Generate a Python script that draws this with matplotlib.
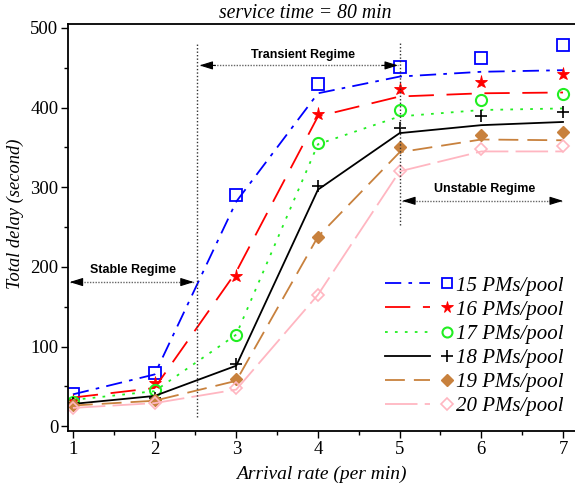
import matplotlib
matplotlib.use("Agg")
import matplotlib.pyplot as plt
from matplotlib.legend_handler import HandlerBase
from matplotlib.lines import Line2D

# ---- data ----
arrival = [1, 2, 3, 4, 5, 6, 7]
labels = ["15 PMs/pool", "16 PMs/pool", "17 PMs/pool", "18 PMs/pool", "19 PMs/pool", "20 PMs/pool"]
pts_15 = [41, 67, 290, 430, 451, 462, 479]
line_15 = [40, 65, 282, 418, 439, 445, 447]
pts_16 = [32, 54, 188, 392, 423, 432, 442]
line_16 = [36, 48, 194, 389, 414, 418, 419]
pts_17 = [31, 46, 115, 355, 397, 410, 417]
line_17 = [33, 44, 115, 354, 389, 397, 399]
pts_18 = [29, 36, 78, 302, 374, 389, 395]
line_18 = [28, 38, 76, 297, 368, 378, 382]
pts_19 = [27, 33, 59, 238, 350, 366, 369]
line_19 = [26, 32, 57, 238, 344, 360, 359]
pts_20 = [23, 29, 48, 165, 321, 348, 352]
line_20 = [23, 29, 46, 165, 320, 345, 345]

# regime annotations
stable_x = (0.96, 2.48); stable_y = 181
transient_x = (2.55, 4.98); transient_y = 453
unstable_x = (5.03, 7.0); unstable_y = 283
vline1_x = 2.52; vline1_y = (12, 482)
vline2_x = 5.0; vline2_y = (253, 481)

serif = "Liberation Serif"
sans = "Liberation Sans"

fig = plt.figure(figsize=(5.75, 4.88), dpi=100)
ax = fig.add_axes([68/575, 57/488, 1 - 68/575, (431-24)/488])

styles = [
    dict(color="#0000ff", dashes=(9, 4, 2, 4), marker="s", mfc="none", ms=8, mew=1.3),
    dict(color="#ff0000", dashes=(14, 7), marker="*", mfc="#ff0000", ms=9.5, mew=0.6),
    dict(color="#22ee22", dashes=(1.5, 4), marker="o", mfc="none", ms=8, mew=1.5),
    dict(color="#000000", dashes=(), marker="+", mfc="none", ms=9, mew=1.2),
    dict(color="#c8813d", dashes=(11, 5), marker="D", mfc="#c8813d", ms=6.5, mew=1.0),
    dict(color="#ffb6c1", dashes=(18, 4), marker="D", mfc="none", ms=6.5, mew=1.2),
]
pts = [pts_15, pts_16, pts_17, pts_18, pts_19, pts_20]
lines = [line_15, line_16, line_17, line_18, line_19, line_20]

handles = []
for st, p, l, lab in zip(styles, pts, lines, labels):
    ln, = ax.plot(arrival, l, color=st["color"], lw=1.3)
    if st["dashes"]:
        ln.set_dashes(st["dashes"])
    ax.plot(arrival, p, ls="none", marker=st["marker"], mfc=st["mfc"],
            mec=st["color"], ms=st["ms"], mew=st["mew"])
    h = Line2D([], [], color=st["color"], lw=1.3, marker=st["marker"], mfc=st["mfc"],
               mec=st["color"], ms=st["ms"] * 0.9, mew=st["mew"], label=lab)
    if st["dashes"]:
        h.set_dashes(st["dashes"])
    handles.append(h)


class LineThenMarker(HandlerBase):
    def create_artists(self, legend, orig, xdescent, ydescent, width, height, fontsize, trans):
        y = height / 2 - ydescent
        l = Line2D([-xdescent, -xdescent + 0.68 * width], [y, y], color=orig.get_color(),
                   lw=orig.get_linewidth(), transform=trans)
        ls = orig.get_linestyle()
        if ls not in ("-", "solid"):
            l.set_linestyle(orig._unscaled_dash_pattern)
        m = Line2D([-xdescent + 0.93 * width], [y], ls="none", marker=orig.get_marker(),
                   mfc=orig.get_markerfacecolor(), mec=orig.get_markeredgecolor(),
                   ms=orig.get_markersize(), mew=orig.get_markeredgewidth(), transform=trans)
        return [l, m]


leg = ax.legend(handles=handles, handler_map={Line2D: LineThenMarker()},
                loc="upper right", bbox_to_anchor=(564/575, (488-276)/488),
                bbox_transform=fig.transFigure, frameon=False, borderpad=0,
                borderaxespad=0, handlelength=3.2, handletextpad=0.25, labelspacing=0.22,
                prop=dict(family=serif, style="italic", size=15))

# vertical regime boundaries
ax.plot([vline1_x, vline1_x], list(vline1_y), color="#333333", ls=(0, (1, 1.5)), lw=1.0)
ax.plot([vline2_x, vline2_x], list(vline2_y), color="#333333", ls=(0, (1, 1.5)), lw=1.0)

def regime_arrow(xs, y):
    ax.plot(list(xs), [y, y], color="#666666", ls=(0, (1, 1)), lw=1.0)
    for a, b in ((xs[0], xs[1]), (xs[1], xs[0])):
        ax.annotate("", xy=(a, y), xytext=(a + (b - a) * 0.08, y),
                    arrowprops=dict(arrowstyle="-|>,head_length=0.8,head_width=0.25",
                                    color="black", lw=0.8, shrinkA=0, shrinkB=0))

regime_arrow(stable_x, stable_y)
regime_arrow(transient_x, transient_y)
regime_arrow(unstable_x, unstable_y)

tkw = dict(family=sans, weight="bold", size=9, ha="center", va="bottom")
ax.text(1.73, 188, "Stable Regime", **tkw)
ax.text(3.82, 459, "Transient Regime", **tkw)
ax.text(6.04, 290, "Unstable Regime", **tkw)

ax.set_xlim(0.94, 7.147)
ax.set_ylim(-6, 505)
ax.set_xticks(arrival)
ax.set_xticks([1.5, 2.5, 3.5, 4.5, 5.5, 6.5], minor=True)
ax.set_yticks([0, 100, 200, 300, 400, 500])
ax.set_yticks([50, 150, 250, 350, 450], minor=True)
ax.tick_params(which="both", direction="out", width=1.0, labelsize=13.5, pad=2)
ax.tick_params(which="major", length=5)
ax.tick_params(which="minor", length=3)
for lab in ax.get_xticklabels() + ax.get_yticklabels():
    lab.set_family(serif)
for s in ("left", "bottom", "top"):
    ax.spines[s].set_linewidth(1.3)
ax.spines["right"].set_visible(False)

ax.set_xlabel("Arrival rate (per min)", family=serif, style="italic", size=14, labelpad=6)
ax.set_ylabel("Total delay (second)", family=serif, style="italic", size=13.3)
ax.yaxis.set_label_coords(-(68-24)/507, (431-214)/407)
fig.text(305/575, (488-13)/488, "service time = 80 min", family=serif, style="italic",
         size=14.2, ha="center", va="center")

fig.savefig("out.png", dpi=100)
